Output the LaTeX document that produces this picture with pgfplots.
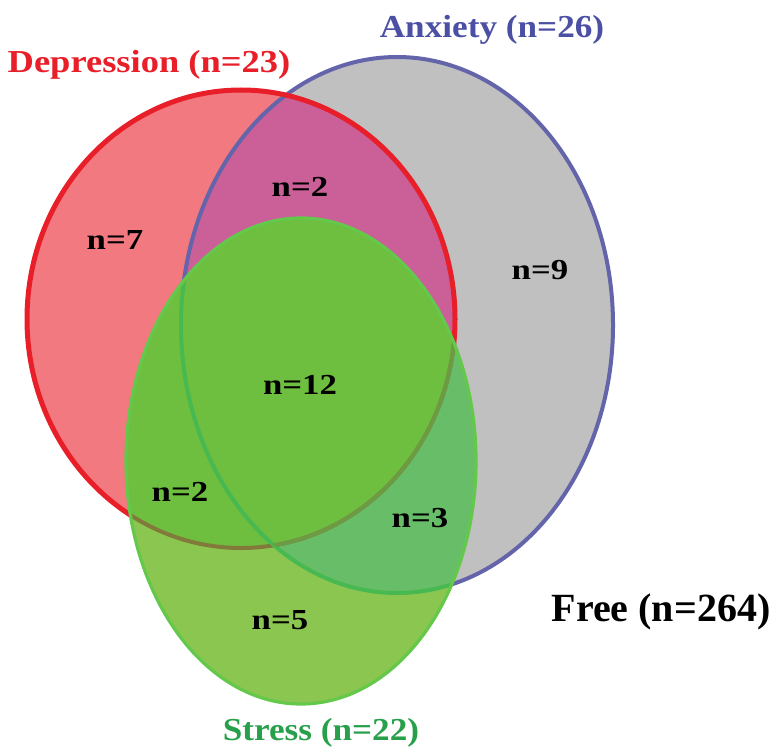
\documentclass[border=0pt]{standalone}
\usepackage{fontspec}
\setmainfont{Liberation Serif}
\usepackage{pgfplots}
\pgfplotsset{compat=1.18}
\usepackage{pgfplotstable}

\definecolor{depfill}{RGB}{241,121,127}
\definecolor{depline}{RGB}{232,30,40}
\definecolor{anxfill}{RGB}{192,192,192}
\definecolor{anxline}{RGB}{100,100,170}
\definecolor{magenta2}{RGB}{203,96,153}
\definecolor{stronly}{RGB}{139,198,80}
\definecolor{strdep}{RGB}{110,190,64}
\definecolor{stranx}{RGB}{104,190,104}
\definecolor{strline}{RGB}{100,200,75}
\definecolor{brownarc}{RGB}{130,122,58}
\definecolor{olivearc}{RGB}{108,155,68}
\definecolor{greenarc}{RGB}{72,185,80}
\definecolor{anxtext}{RGB}{75,80,165}
\definecolor{strtext}{RGB}{40,160,75}

% region counts: x y label (pixel-like units)
\pgfplotstableread{
x y label
115 511 n=7
300 564 n=2
540 481 n=9
300 366 n=12
180 259 n=2
420 233 n=3
280 131 n=5
}\counts

\begin{document}
\begin{tikzpicture}
\begin{axis}[
  width=389.5pt, height=375.5pt, scale only axis,
  xmin=0, xmax=779, ymin=0, ymax=751,
  hide axis, clip=false,
]
% frame the picture to the full canvas
\path (axis cs:0,0) rectangle (axis cs:779,751);
% ellipses: Depression (241,432; 214,229), Anxiety (397,426; 216,268), Stress (301,290; 175,243)
\def\Dep{(axis cs:241,432) ellipse [x radius=214, y radius=229]}
\def\Anx{(axis cs:397,426) ellipse [x radius=216, y radius=268]}
\def\Str{(axis cs:301,290) ellipse [x radius=175, y radius=243]}

\fill[anxfill] \Anx;
\fill[depfill] \Dep;
\begin{scope}
  \clip \Anx;
  \fill[magenta2] \Dep;
\end{scope}
\draw[anxline, line width=2pt] \Anx;
\draw[depline, line width=2.5pt] \Dep;

% stress
\fill[stronly] \Str;
\begin{scope}
  \clip \Str;
  \fill[stranx] \Anx;
  \fill[strdep] \Dep;
  \draw[brownarc, line width=2pt] \Dep;
  \draw[greenarc, line width=2pt] \Anx;
  \begin{scope}
    \clip \Anx;
    \draw[olivearc, line width=2pt] \Dep;
  \end{scope}
\end{scope}
\draw[strline, line width=1.6pt] \Str;

\addplot[only marks, mark=none, nodes near coords, point meta=explicit symbolic,
  every node near coord/.append style={anchor=center, inner sep=0pt, xscale=1.2,
    font=\fontsize{14.5}{16}\selectfont\bfseries, text=black}]
  table[x=x, y=y, meta=label] {\counts};

\node[inner sep=0pt, depline, xscale=1.14, font=\fontsize{16}{18}\selectfont\bfseries] at (axis cs:149,686) {Depression (n=23)};
\node[inner sep=0pt, anxtext, xscale=1.1, font=\fontsize{16}{18}\selectfont\bfseries] at (axis cs:492,721) {Anxiety (n=26)};
\node[inner sep=0pt, strtext, xscale=1.1, font=\fontsize{16}{18}\selectfont\bfseries] at (axis cs:321,18) {Stress (n=22)};
\node[inner sep=0pt, black, font=\fontsize{20}{24}\selectfont\bfseries] at (axis cs:661,139) {Free (n=264)};
\end{axis}
\end{tikzpicture}
\end{document}
